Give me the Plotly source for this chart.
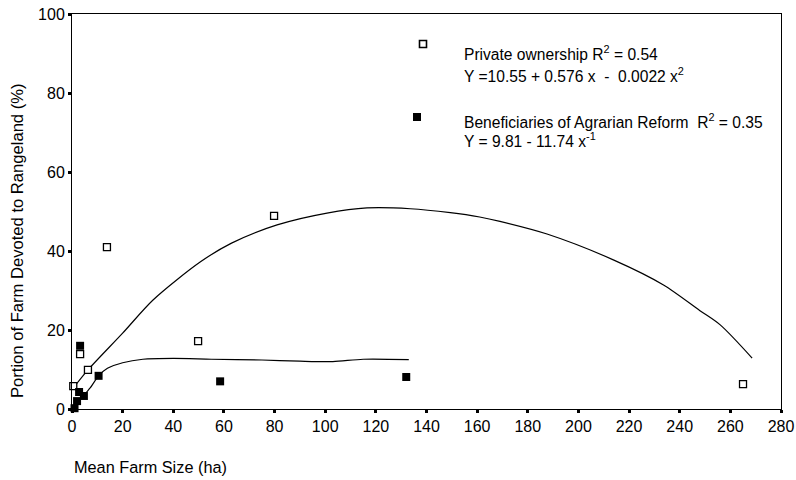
import plotly.graph_objects as go

# Private ownership: observed farms
private_x = [0.5, 3.2, 6.3, 13.8, 49.8, 79.8, 265]
private_y = [5.8, 13.9, 9.9, 41.0, 17.2, 48.9, 6.3]

# Private ownership: fitted curve (quadratic), traced points
private_fit_x = [0.5, 6.3, 20, 32, 50.6, 63, 81, 100.7, 116.5, 133.6, 149.4, 161, 169,
                 187.6, 214, 233.6, 248, 256, 268.6]
private_fit_y = [5.3, 9.9, 19.2, 27.6, 37.2, 42.0, 46.6, 49.6, 50.9, 50.7, 49.7, 48.6, 47.5,
                 44.3, 37.7, 31.4, 24.9, 21.3, 12.9]

# Beneficiaries of Agrarian Reform: observed farms
reform_x = [0.2, 1.0, 2.0, 2.8, 4.7, 3.2, 10.5, 58.5, 132]
reform_y = [-0.5, 0.2, 2.0, 4.3, 3.3, 16.0, 8.4, 7.0, 8.1]

# Beneficiaries of Agrarian Reform: fitted curve (inverse), traced points
reform_fit_x = [1.5, 4.5, 7, 10.5, 14, 20, 28, 40, 55, 75, 90, 103, 115, 133]
reform_fit_y = [5.0, 3.6, 5.2, 8.4, 10.3, 11.7, 12.6, 12.8, 12.6, 12.4, 12.1, 12.0, 12.6, 12.5]

x_ticks = list(range(0, 281, 20))
y_ticks = list(range(0, 101, 20))

SANS = "Liberation Sans, Arial, sans-serif"

W, H = 796, 480
ML, MR, MT, MB = 72, 15, 14, 71
PW, PH = W - ML - MR, H - MT - MB


def px_to_paper(px, py):
    return (px - ML) / PW, (H - MB - py) / PH


fig = go.Figure()

fig.add_trace(go.Scatter(
    x=private_fit_x, y=private_fit_y, mode="lines",
    line=dict(color="black", width=1.2, shape="spline", smoothing=0.8),
    hoverinfo="skip", showlegend=False))
fig.add_trace(go.Scatter(
    x=reform_fit_x, y=reform_fit_y, mode="lines",
    line=dict(color="black", width=1.2, shape="spline", smoothing=0.8),
    hoverinfo="skip", showlegend=False))

fig.add_trace(go.Scatter(
    x=private_x, y=private_y, mode="markers", cliponaxis=False,
    marker=dict(symbol="square", size=7, color="white",
                line=dict(color="black", width=1.3)),
    name="Private ownership", showlegend=False))
fig.add_trace(go.Scatter(
    x=reform_x, y=reform_y, mode="markers", cliponaxis=False,
    marker=dict(symbol="square", size=8, color="black",
                line=dict(color="black", width=0)),
    name="Beneficiaries of Agrarian Reform", showlegend=False))

axis_style = dict(showgrid=False, zeroline=False, showline=True, linecolor="black",
                  linewidth=1, mirror=True, ticks="outside", ticklen=3, tickwidth=3,
                  tickcolor="black", automargin=False,
                  tickfont=dict(family=SANS, size=16, color="black"))

fig.update_layout(
    width=W, height=H,
    margin=dict(l=ML, r=MR, t=MT, b=MB, autoexpand=False),
    paper_bgcolor="white", plot_bgcolor="white",
    font=dict(family=SANS, color="black"),
    xaxis=dict(range=[0, 280], tickvals=x_ticks, ticktext=[str(v) for v in x_ticks],
               **axis_style),
    yaxis=dict(range=[0, 100], tickvals=y_ticks, ticktext=[str(v) for v in y_ticks],
               **axis_style),
)

# Legend key squares
for cx, cy, size, fill, lw in [(423, 44, 7, "white", 1.6), (417, 117, 8, "black", 0)]:
    x0, y0 = px_to_paper(cx - size / 2, cy + size / 2)
    x1, y1 = px_to_paper(cx + size / 2, cy - size / 2)
    fig.add_shape(type="rect", xref="paper", yref="paper", x0=x0, y0=y0, x1=x1, y1=y1,
                  fillcolor=fill, line=dict(color="black", width=lw))

annotations = [
    dict(text="Portion of Farm Devoted to Rangeland (%)", x=18, y=241, textangle=-90,
         font=dict(family=SANS, size=16.6)),
    dict(text="Mean Farm Size (ha)", x=72, y=467, xanchor="left",
         font=dict(family=SANS, size=16.3)),
    dict(text="Private ownership R<sup>2</sup> = 0.54", x=462, y=53, xanchor="left",
         font=dict(family=SANS, size=15.6)),
    dict(text="Y =10.55 + 0.576 x  -  0.0022 x<sup>2</sup>", x=462, y=75, xanchor="left",
         font=dict(family=SANS, size=15.6)),
    dict(text="Beneficiaries of Agrarian Reform  R<sup>2</sup> = 0.35", x=462, y=121,
         xanchor="left", font=dict(family=SANS, size=15.6)),
    dict(text="Y = 9.81 - 11.74 x<sup>-1</sup>", x=462, y=140, xanchor="left",
         font=dict(family=SANS, size=15.6)),
]
for a in annotations:
    ax, ay = px_to_paper(a.pop("x"), a.pop("y"))
    a.setdefault("xanchor", "center")
    fig.add_annotation(x=ax, y=ay, xref="paper", yref="paper",
                       yanchor="middle", showarrow=False, **a)

fig.write_html("out.html")
